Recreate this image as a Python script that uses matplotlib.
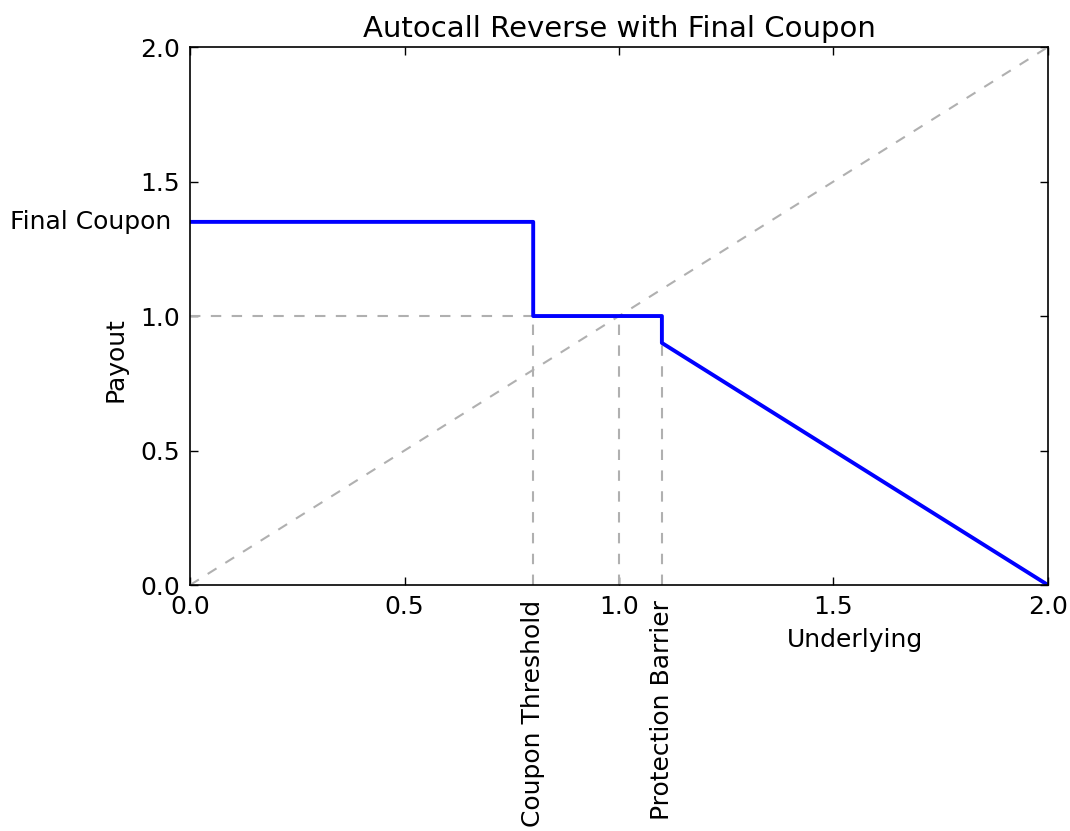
import matplotlib.pyplot as plt
import numpy as np

# payoff profile of the product
underlying = [0.0, 0.8, 0.8, 1.1, 1.1, 2.0]
payout = [1.35, 1.35, 1.0, 1.0, 0.9, 0.0]

final_coupon = 1.35
coupon_threshold = 0.8
protection_barrier = 1.1
xticks = [0.0, 0.5, 1.0, 1.5, 2.0]
yticks = [0.0, 0.5, 1.0, 1.5, 2.0]

FS = 18
GREY = "#b0b0b0"
DASH = (5, 5)

fig = plt.figure(figsize=(10.7, 8.31), dpi=100)
ax = fig.add_axes([0.1776, 0.296, 0.8018, 0.6474])

# reference lines
ax.plot([0, 2], [0, 2], ls="--", dashes=DASH, color=GREY, lw=1.5)
ax.plot([0, coupon_threshold], [1.0, 1.0], ls="--", dashes=DASH, color=GREY, lw=1.5)
ax.plot([coupon_threshold, coupon_threshold], [0, 1.0], ls="--", dashes=DASH, color=GREY, lw=1.5)
ax.plot([1.0, 1.0], [0, 1.0], ls="--", dashes=DASH, color=GREY, lw=1.5)
ax.plot([protection_barrier, protection_barrier], [0, 0.9], ls="--", dashes=DASH, color=GREY, lw=1.5)

ax.plot(underlying, payout, color="blue", lw=2.8)

ax.set_xlim(0, 2)
ax.set_ylim(0, 2)
ax.set_xticks(xticks)
ax.set_yticks(yticks)
ax.set_xticklabels([f"{t:.1f}" for t in xticks], fontsize=FS)
ax.set_yticklabels([f"{t:.1f}" for t in yticks], fontsize=FS)
ax.tick_params(direction="in", top=True, right=True, length=5.5, width=1, pad=7)
for s in ax.spines.values():
    s.set_linewidth(1.2)

trans_x = ax.get_xaxis_transform()
trans_y = ax.get_yaxis_transform()
ax.text(coupon_threshold, -0.027, "Coupon Threshold", transform=trans_x,
        rotation=90, ha="center", va="top", fontsize=FS)
ax.text(protection_barrier, -0.027, "Protection Barrier", transform=trans_x,
        rotation=90, ha="center", va="top", fontsize=FS)
ax.text(-0.022, final_coupon, "Final Coupon", transform=trans_y,
        ha="right", va="center", fontsize=FS)

ax.set_title("Autocall Reverse with Final Coupon", fontsize=21, pad=7)
ax.set_xlabel("Underlying", fontsize=FS)
ax.set_ylabel("Payout", fontsize=FS)
ax.xaxis.set_label_coords(0.775, -0.08)
ax.yaxis.set_label_coords(-0.073, 0.42)

fig.savefig("out.png", dpi=100)
